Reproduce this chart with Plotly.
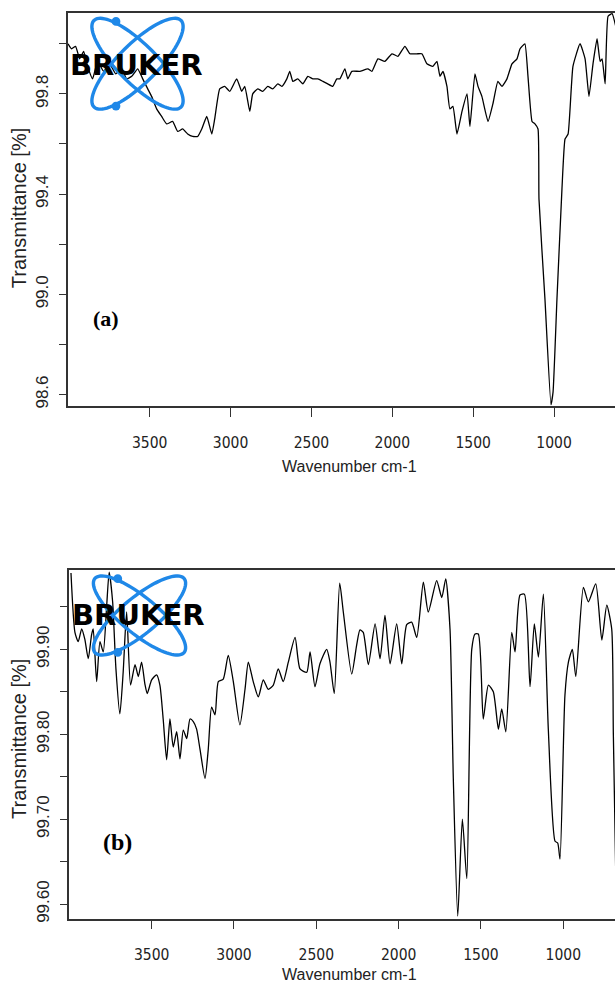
import numpy as np
import plotly.graph_objects as go

# ---------------- data ----------------
wn_a = [4005, 3983, 3958, 3933, 3908, 3884, 3853, 3822, 3785, 3748,
        3710, 3673, 3642, 3611, 3574, 3543, 3512, 3488, 3457, 3426,
        3395, 3358, 3327, 3296, 3265, 3234, 3203, 3178, 3147, 3116,
        3098, 3067, 3036, 3005, 2962, 2931, 2912, 2881, 2863, 2832,
        2801, 2770, 2739, 2708, 2683, 2652, 2634, 2615, 2584, 2553,
        2522, 2491, 2460, 2429, 2399, 2368, 2343, 2324, 2293, 2275,
        2250, 2201, 2151, 2126, 2089, 2046, 2002, 1965, 1922, 1891,
        1848, 1817, 1786, 1749, 1724, 1705, 1687, 1662, 1644, 1625,
        1600, 1569, 1538, 1520, 1489, 1470, 1446, 1408, 1378, 1347,
        1322, 1291, 1260, 1229, 1210, 1180, 1161, 1136, 1118, 1099,
        1093, 1056, 1019, 1006, 982, 951, 932, 913, 883, 839,
        808, 784, 759, 734, 715, 703, 684, 666, 641, 615]
t_a = [100.00, 99.98, 99.99, 99.94, 99.97, 99.91, 99.86, 99.93, 99.89, 99.92,
       99.88, 99.90, 99.86, 99.87, 99.90, 99.86, 99.82, 99.79, 99.74, 99.71,
       99.68, 99.69, 99.65, 99.66, 99.64, 99.63, 99.63, 99.66, 99.71, 99.64,
       99.70, 99.82, 99.83, 99.81, 99.86, 99.81, 99.83, 99.73, 99.80, 99.82,
       99.81, 99.83, 99.82, 99.84, 99.83, 99.86, 99.89, 99.85, 99.86, 99.84,
       99.87, 99.86, 99.86, 99.85, 99.84, 99.83, 99.86, 99.86, 99.90, 99.86,
       99.89, 99.89, 99.90, 99.89, 99.94, 99.93, 99.96, 99.95, 99.99, 99.96,
       99.96, 99.96, 99.92, 99.91, 99.93, 99.87, 99.89, 99.83, 99.74, 99.75,
       99.64, 99.73, 99.80, 99.67, 99.88, 99.83, 99.79, 99.69, 99.76, 99.85,
       99.83, 99.86, 99.92, 99.94, 99.98, 100.00, 99.87, 99.69, 99.68, 99.66,
       99.38, 98.98, 98.56, 98.61, 98.98, 99.42, 99.62, 99.64, 99.91, 100.00,
       99.94, 99.79, 99.92, 100.02, 99.93, 99.94, 99.84, 100.11, 100.12, 100.06]

wn_b = [3990, 3966, 3946, 3925, 3906, 3885, 3865, 3855, 3834, 3814,
        3794, 3773, 3758, 3737, 3717, 3693, 3673, 3652, 3628, 3601,
        3581, 3561, 3541, 3527, 3500, 3470, 3450, 3430, 3409, 3389,
        3369, 3348, 3328, 3308, 3287, 3267, 3247, 3227, 3207, 3176,
        3156, 3136, 3115, 3095, 3065, 3035, 3004, 2964, 2933, 2913,
        2883, 2852, 2822, 2792, 2761, 2731, 2701, 2670, 2629, 2599,
        2558, 2538, 2508, 2478, 2437, 2417, 2391, 2358, 2336, 2285,
        2255, 2235, 2215, 2184, 2143, 2113, 2083, 2052, 2012, 1981,
        1951, 1921, 1890, 1850, 1820, 1769, 1738, 1714, 1688, 1668,
        1641, 1613, 1586, 1556, 1536, 1516, 1486, 1455, 1425, 1394,
        1374, 1349, 1313, 1293, 1263, 1236, 1202, 1176, 1151, 1121,
        1091, 1050, 1034, 1020, 990, 969, 945, 924, 878, 848,
        803, 766, 736, 706, 696, 680]
t_b = [99.990, 99.920, 99.909, 99.924, 99.912, 99.889, 99.917, 99.924, 99.862, 99.909,
       99.897, 99.952, 99.991, 99.956, 99.877, 99.824, 99.873, 99.944, 99.858, 99.882,
       99.868, 99.885, 99.859, 99.848, 99.864, 99.870, 99.858, 99.818, 99.770, 99.818,
       99.785, 99.803, 99.771, 99.805, 99.795, 99.818, 99.815, 99.806, 99.783, 99.748,
       99.783, 99.832, 99.823, 99.862, 99.865, 99.893, 99.862, 99.811, 99.853, 99.885,
       99.862, 99.844, 99.864, 99.853, 99.858, 99.877, 99.862, 99.885, 99.914, 99.877,
       99.873, 99.897, 99.856, 99.883, 99.900, 99.885, 99.848, 99.978, 99.944, 99.871,
       99.905, 99.923, 99.920, 99.882, 99.930, 99.889, 99.940, 99.883, 99.930, 99.883,
       99.929, 99.932, 99.914, 99.979, 99.944, 99.981, 99.961, 99.983, 99.924, 99.748,
       99.586, 99.700, 99.630, 99.900, 99.918, 99.918, 99.818, 99.858, 99.850, 99.806,
       99.830, 99.803, 99.920, 99.897, 99.964, 99.965, 99.856, 99.930, 99.891, 99.965,
       99.806, 99.674, 99.672, 99.653, 99.846, 99.885, 99.900, 99.868, 99.973, 99.956,
       99.977, 99.911, 99.952, 99.924, 99.800, 99.620]

x_ticks = [3500, 3000, 2500, 2000, 1500, 1000]
y_ticks_a = [98.6, 98.8, 99.0, 99.2, 99.4, 99.6, 99.8, 100.0]
y_text_a = ["98.6", "", "99.0", "", "99.4", "", "99.8", ""]
y_ticks_b = [99.60, 99.65, 99.70, 99.75, 99.80, 99.85, 99.90, 99.95]
y_text_b = ["99.60", "", "99.70", "", "99.80", "", "99.90", ""]

W, H = 615, 987

def px(x):
    return x / W

def py(y):
    return 1 - y / H

fig = go.Figure()
fig.add_trace(go.Scatter(x=wn_a, y=t_a, mode="lines", xaxis="x", yaxis="y",
                         line=dict(color="black", width=1.3, shape="spline", smoothing=0.4),
                         showlegend=False))
fig.add_trace(go.Scatter(x=wn_b, y=t_b, mode="lines", xaxis="x2", yaxis="y2",
                         line=dict(color="black", width=1.3, shape="spline", smoothing=0.6),
                         showlegend=False))

axcol = "#333333"
tickfont_x = dict(family="DejaVu Sans Condensed, Liberation Sans Narrow, Liberation Sans, Arial",
                  size=15.5, color="#222")
tickfont_y = dict(family="Liberation Sans, Arial", size=17, color="#222")

common_x = dict(showgrid=False, zeroline=False, showline=True, mirror=True,
                linecolor=axcol, linewidth=1.6, ticks="outside", ticklen=9,
                tickwidth=1.3, tickcolor=axcol, tickvals=x_ticks,
                tickfont=tickfont_x, ticklabelstandoff=12)
common_y = dict(showgrid=False, zeroline=False, showline=True, mirror=False,
                linecolor=axcol, linewidth=1.6, ticks="outside", ticklen=7,
                tickwidth=1.3, tickcolor=axcol, tickangle=-90,
                tickfont=tickfont_y, ticklabelstandoff=4)

fig.update_layout(
    width=W, height=H, margin=dict(l=0, r=0, t=0, b=0),
    paper_bgcolor="white", plot_bgcolor="white",
    xaxis=dict(domain=[px(68), 1.0], range=[4005, 623], anchor="y", **common_x),
    yaxis=dict(domain=[py(408), py(13)], range=[98.553, 100.123], anchor="x",
               tickvals=y_ticks_a, ticktext=y_text_a, **common_y),
    xaxis2=dict(domain=[px(69), 1.0], range=[4002, 686], anchor="y2", **common_x),
    yaxis2=dict(domain=[py(922.3), py(572.7)], range=[99.583, 99.993], anchor="x2",
                tickvals=y_ticks_b, ticktext=y_text_b, **common_y),
)

# ---------------- axis titles and panel labels ----------------
ann = []
for cy in (209, 742):
    ann.append(dict(x=px(19), y=py(cy), xref="paper", yref="paper", text="Transmittance [%]",
                    textangle=-90, showarrow=False, xanchor="center", yanchor="middle",
                    font=dict(family="Liberation Sans, Arial", size=20, color="#222")))
for cy in (468, 978):
    ann.append(dict(x=px(349), y=py(cy), xref="paper", yref="paper", text="Wavenumber cm-1",
                    showarrow=False, xanchor="center", yanchor="middle",
                    font=dict(family="Liberation Sans, Arial", size=16, color="#222")))
ann.append(dict(x=px(106), y=py(320), xref="paper", yref="paper", text="<b>(a)</b>",
                showarrow=False, xanchor="center", yanchor="middle",
                font=dict(family="Liberation Serif, Times New Roman", size=22, color="black")))
ann.append(dict(x=px(117.5), y=py(845), xref="paper", yref="paper", text="<b>(b)</b>",
                showarrow=False, xanchor="center", yanchor="middle",
                font=dict(family="Liberation Serif, Times New Roman", size=24, color="black")))

# ---------------- Bruker logo (decoration) ----------------
shapes = []
blue = "#1f88e8"

def logo(cx, cy, sx, sy, text_cy, text_cx):
    a, b = 61.5, 19.5
    t = np.linspace(0, 2 * np.pi, 90)
    for sgn in (1, -1):
        u = a * np.cos(t)
        v = b * np.sin(t)
        c = np.cos(sgn * np.pi / 4)
        s = np.sin(sgn * np.pi / 4)
        xx = cx + (u * c - v * s) * sx / 46.0
        yy = cy + (u * s + v * c) * sy / 46.0
        path = "M " + " L ".join(f"{px(x0):.5f},{py(y0):.5f}" for x0, y0 in zip(xx, yy)) + " Z"
        shapes.append(dict(type="path", path=path, xref="paper", yref="paper",
                           line=dict(color=blue, width=3.4), layer="above"))
    for dy in (-1, 1):
        dx0 = cx - 21.5 * sx / 46.0
        dy0 = cy + dy * 42.5 * sy / 46.0
        r = 4.4
        shapes.append(dict(type="circle", xref="paper", yref="paper",
                           x0=px(dx0 - r), x1=px(dx0 + r), y0=py(dy0 - r), y1=py(dy0 + r),
                           fillcolor=blue, line=dict(color=blue, width=0), layer="above"))
    ann.append(dict(x=px(text_cx), y=py(text_cy), xref="paper", yref="paper",
                    text="<b>BRUKER</b>", showarrow=False, xanchor="center", yanchor="middle",
                    font=dict(family="DejaVu Sans, Liberation Sans", size=29, color="black")))

logo(137.5, 64, 46, 46, 65, 136)
logo(139.5, 618, 46.5, 40, 618, 138)

fig.update_layout(annotations=ann, shapes=shapes)
fig.write_html("out.html")
